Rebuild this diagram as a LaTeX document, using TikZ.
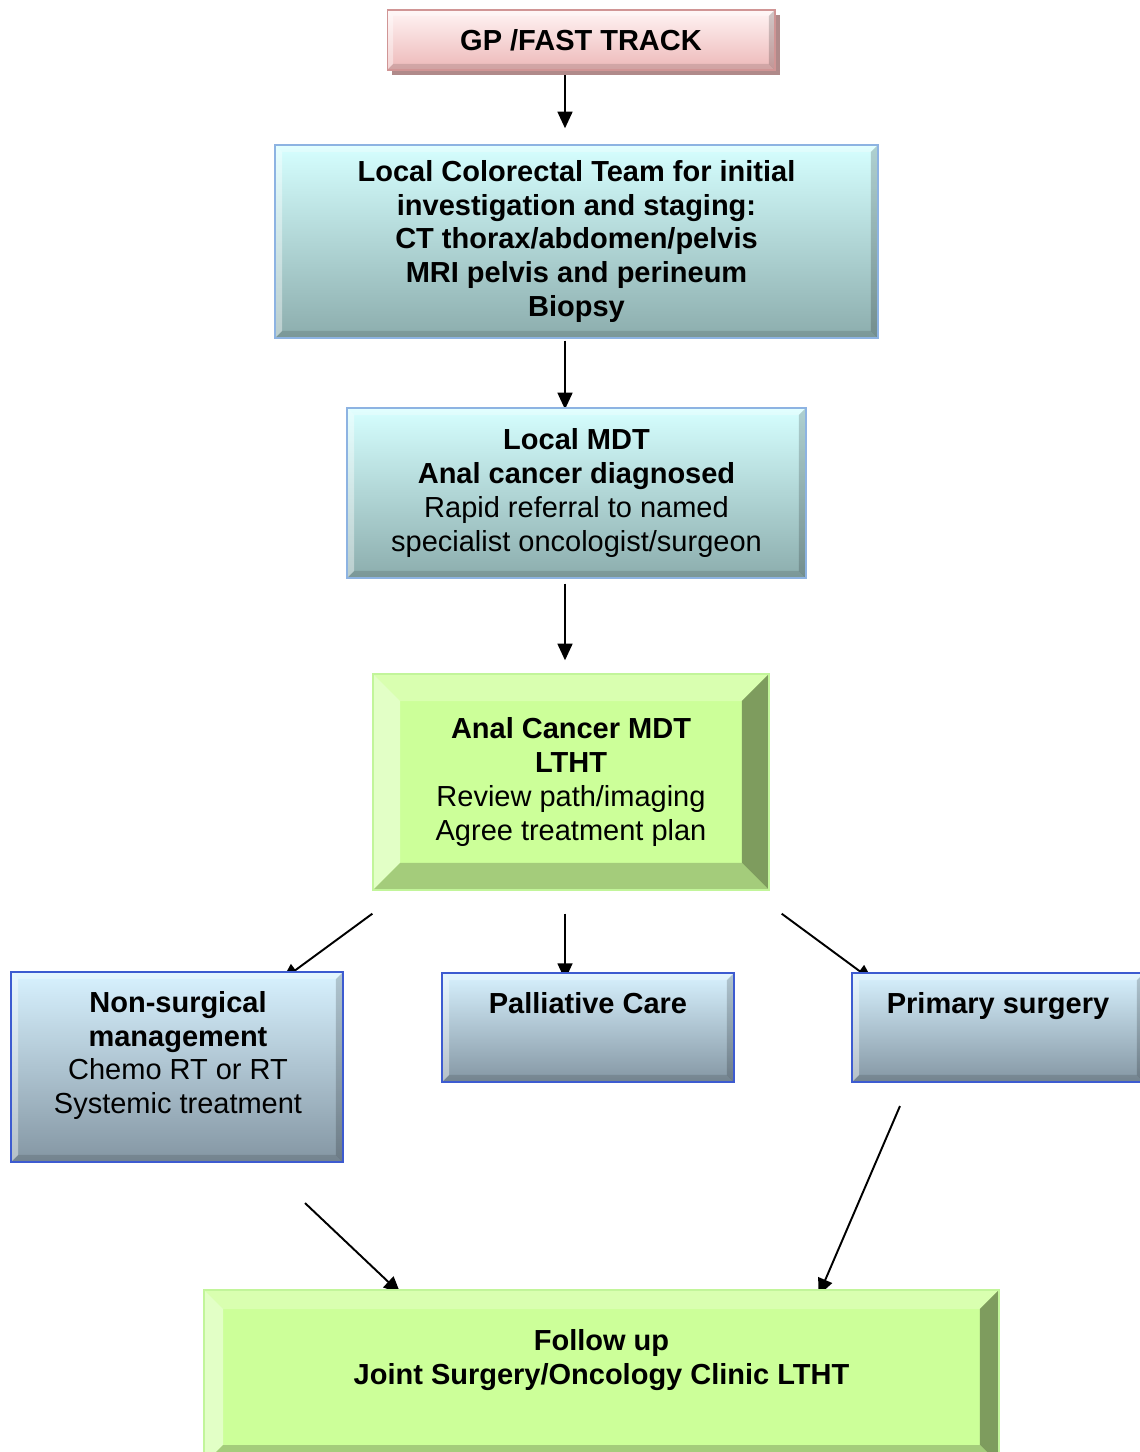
\documentclass[tikz,border=0pt]{standalone}
\usepackage{fontspec}
\setmainfont{Liberation Sans}
\usetikzlibrary{calc,arrows.meta,shadows}
\pgfdeclarelayer{background}
\pgfsetlayers{background,main}
\definecolor{pinktop}{HTML}{FFF4F4}
\definecolor{pinkbot}{HTML}{EDB8B8}
\definecolor{pinkline}{HTML}{D09595}
\definecolor{pinkshade}{HTML}{B08A8A}
\definecolor{cyantop}{HTML}{D6FFFF}
\definecolor{cyanbot}{HTML}{8CADAD}
\definecolor{cyanline}{HTML}{8DB3E2}
\definecolor{bluetop}{HTML}{D8F2FF}
\definecolor{bluebot}{HTML}{8496A3}
\definecolor{blueline}{HTML}{3D5BD0}
\definecolor{greenface}{HTML}{CCFF99}
\definecolor{greentop}{HTML}{D9FFB0}
\definecolor{greenleft}{HTML}{E2FFC6}
\definecolor{greenright}{HTML}{7E9C5E}
\definecolor{greenbot}{HTML}{A4CC7B}
\definecolor{greenline}{HTML}{C2F59A}
% four bevel strips inside a box: width, top, left, right, bottom
\newcommand\bevelsides[5]{%
  \coordinate (bnw) at (path picture bounding box.north west);
  \coordinate (bne) at (path picture bounding box.north east);
  \coordinate (bsw) at (path picture bounding box.south west);
  \coordinate (bse) at (path picture bounding box.south east);
  \fill[#2] (bnw) -- (bne) -- ([shift={(-#1,#1)}]bne) -- ([shift={(#1,#1)}]bnw) -- cycle;
  \fill[#3] (bnw) -- (bsw) -- ([shift={(#1,-#1)}]bsw) -- ([shift={(#1,#1)}]bnw) -- cycle;
  \fill[#4] (bne) -- (bse) -- ([shift={(-#1,-#1)}]bse) -- ([shift={(-#1,#1)}]bne) -- cycle;
  \fill[#5] (bsw) -- (bse) -- ([shift={(-#1,-#1)}]bse) -- ([shift={(#1,-#1)}]bsw) -- cycle;
}
\tikzset{
  txt/.style={font=\fontsize{16.5}{19.3}\selectfont, align=center, text=black},
  soft/.style={path picture={\bevelsides{#1}{white,opacity=0.3}{white,opacity=0.4}{black,opacity=0.18}{black,opacity=0.12}}},
  gpbox/.style={txt, inner sep=0pt, draw=pinkline, line width=0.6pt,
    top color=pinktop, bottom color=pinkbot, soft=6,
    drop shadow={shadow xshift=0.1cm, shadow yshift=-0.1cm, fill=pinkshade, opacity=1}},
  cyanbox/.style={txt, inner sep=0pt, draw=cyanline, line width=0.8pt,
    top color=cyantop, bottom color=cyanbot, soft=7},
  bluebox/.style={inner sep=0pt, draw=blueline, line width=1.2pt,
    top color=bluetop, bottom color=bluebot, soft=7},
  greenbox/.style={txt, inner sep=0pt, draw=greenline, line width=0.8pt, fill=greenface,
    path picture={\bevelsides{#1}{greentop}{greenleft}{greenright}{greenbot}}},
  arr/.style={draw=black, line width=1.1pt, -{Triangle[length=9.5pt,width=8.5pt]}},
}

\begin{document}
\begin{tikzpicture}[x=0.02cm, y=-0.02cm]
  \useasboundingbox (0,0) rectangle (1139,1452);
  % top of the pathway
  \node[gpbox, minimum width=7.76cm, minimum height=1.2cm] (gp) at (581,40)
    {\textbf{GP /FAST TRACK}};
  \node[cyanbox, minimum width=12.06cm, minimum height=3.86cm] (crt) at (576.5,241.5)
    {\textbf{Local Colorectal Team for initial}\\
     \textbf{investigation and staging:}\\
     \textbf{CT thorax/abdomen/pelvis}\\
     \textbf{MRI pelvis and perineum}\\
     \textbf{Biopsy}};
  \node[cyanbox, minimum width=9.18cm, minimum height=3.4cm] (lmdt) at (576.5,493)
    {\textbf{Local MDT}\\
     \textbf{Anal cancer diagnosed}\\
     Rapid referral to named\\
     specialist oncologist/surgeon};
  \node[greenbox=27, minimum width=7.92cm, minimum height=4.32cm] (acmdt) at (571,782)
    {\textbf{Anal Cancer MDT}\\
     \textbf{LTHT}\\
     Review path/imaging\\
     Agree treatment plan};
  % treatment options
  \node[bluebox, minimum width=6.64cm, minimum height=3.8cm] (nsm) at (177,1067) {};
  \node[txt] (nsm-t) at ([shift={(1,-11.5)}]nsm.center)
    {\textbf{Non-surgical}\\
     \textbf{management}\\
     Chemo RT or RT\\
     Systemic treatment};
  \node[bluebox, minimum width=5.84cm, minimum height=2.18cm] (pal) at (588,1027.5) {};
  \node[txt] (pal-t) at ([shift={(0,-24.5)}]pal.center) {\textbf{Palliative Care}};
  \node[bluebox, minimum width=5.84cm, minimum height=2.18cm] (prim) at (998,1027.5) {};
  \node[txt] (prim-t) at ([shift={(0,-21.5)}]prim.center) {\textbf{Primary surgery}};
  % follow up
  \node[greenbox=19, minimum width=15.9cm, minimum height=3.48cm] (fu) at (601.5,1377) {};
  \node[txt] (fu-t) at ([shift={(0,-17)}]fu.center)
    {\textbf{Follow up}\\
     \textbf{Joint Surgery/Oncology Clinic LTHT}};

  \begin{pgfonlayer}{background}
    \draw[arr, shorten >=18*0.02cm] ([shift={(-16,2)}]gp.south) -- ([shift={(-16,2)}]gp.south |- crt.north);
    \draw[arr] ([shift={(-11.5,2)}]crt.south) -- ([shift={(-11.5,2)}]crt.south |- lmdt.north);
    \draw[arr, shorten >=18*0.02cm] ([shift={(-11.5,5)}]lmdt.south) -- ([shift={(-11.5,5)}]lmdt.south |- acmdt.north);
    \draw[arr] ([shift={(0,23)}]acmdt.south west) -- ([shift={(-62,9)}]nsm.north east);
    \draw[arr] ([shift={(-6,23)}]acmdt.south) -- ([shift={(-23,8)}]pal.north);
    \draw[arr] ([shift={(12,23)}]acmdt.south east) -- ([shift={(22,9)}]prim.north west);
    \draw[arr] ([shift={(128,40)}]nsm.south) -- ([shift={(197,4)}]fu.north west);
    \draw[arr] ([shift={(49,23)}]prim.south west) -- ([shift={(-181,6)}]fu.north east);
  \end{pgfonlayer}
\end{tikzpicture}
\end{document}
